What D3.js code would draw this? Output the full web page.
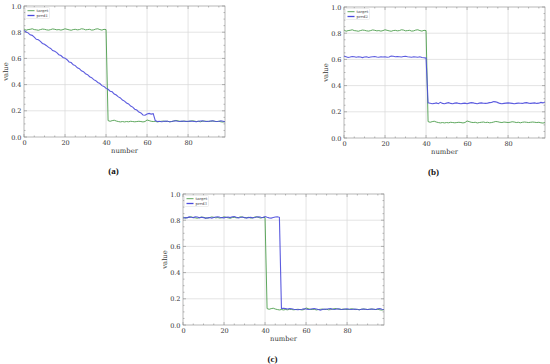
<!DOCTYPE html>
<html>
<head>
<meta charset="utf-8">
<script src="https://cdn.jsdelivr.net/npm/d3@7"></script>
<style>
  body { margin: 0; background: #fff; }
  svg { display: block; }
  .tick text { font-family: "DejaVu Serif", serif; font-size: 6.5px; fill: #333; }
</style>
</head>
<body>
<div id="chart"></div>
<script>
// values, index = number (0..98)
var target = [0.825,0.815,0.82,0.822,0.826,0.82,0.818,0.815,0.82,0.824,
  0.822,0.818,0.816,0.82,0.825,0.822,0.818,0.82,0.816,0.82,
  0.826,0.822,0.818,0.815,0.82,0.822,0.818,0.82,0.826,0.824,
  0.818,0.82,0.822,0.816,0.818,0.824,0.826,0.82,0.816,0.822,
  0.82,
  0.125,0.12,0.125,0.128,0.122,0.118,0.115,0.118,0.115,0.118,
  0.116,0.12,0.118,0.116,0.118,0.12,0.118,0.115,0.118,0.13,
  0.125,0.12,0.118,0.12,0.115,0.118,0.12,0.122,0.118,0.12,
  0.116,0.118,0.122,0.126,0.124,0.12,0.118,0.122,0.12,0.118,
  0.12,0.124,0.122,0.118,0.12,0.116,0.12,0.122,0.12,0.118,
  0.12,0.122,0.12,0.118,0.12,0.116,0.114,0.118];

var pred1 = [0.814,0.802,0.795,0.78,0.776,0.762,0.746,0.742,0.73,0.714,
  0.708,0.697,0.684,0.676,0.66,0.654,0.644,0.628,0.622,0.607,
  0.602,0.59,0.573,0.568,0.551,0.545,0.528,0.522,0.505,0.499,
  0.483,0.476,0.46,0.453,0.438,0.43,0.416,0.408,0.392,0.386,
  0.371,0.364,0.35,0.345,0.328,0.32,0.306,0.298,0.282,0.274,
  0.26,0.252,0.236,0.228,0.212,0.206,0.19,0.184,0.168,0.166,
  0.176,0.18,0.175,0.178,0.125,0.118,
  0.12,0.116,0.118,0.122,0.12,0.116,0.118,0.122,0.124,0.12,
  0.118,0.122,0.12,0.118,0.12,0.122,0.12,0.118,0.116,0.12,
  0.122,0.124,0.12,0.118,0.12,0.122,0.124,0.12,0.118,0.12,
  0.124,0.12,0.116];

var pred2 = [0.625,0.62,0.615,0.618,0.622,0.62,0.616,0.62,0.618,0.614,
  0.618,0.62,0.615,0.618,0.62,0.622,0.618,0.616,0.62,0.618,
  0.62,0.616,0.618,0.626,0.624,0.62,0.622,0.62,0.618,0.622,
  0.624,0.62,0.618,0.616,0.62,0.618,0.616,0.62,0.614,0.612,
  0.61,
  0.268,0.265,0.262,0.264,0.268,0.262,0.272,0.264,0.262,0.266,
  0.27,0.264,0.262,0.266,0.268,0.264,0.262,0.264,0.266,0.262,
  0.266,0.27,0.268,0.264,0.262,0.266,0.268,0.265,0.264,0.266,
  0.27,0.272,0.278,0.276,0.27,0.264,0.262,0.264,0.266,0.268,
  0.266,0.264,0.262,0.264,0.266,0.265,0.264,0.268,0.27,0.266,
  0.264,0.266,0.268,0.264,0.266,0.272,0.268,0.274];

var pred3 = [0.815,0.82,0.818,0.825,0.822,0.82,0.826,0.824,0.818,0.822,
  0.82,0.814,0.818,0.82,0.816,0.82,0.824,0.826,0.822,0.82,
  0.818,0.822,0.824,0.82,0.826,0.828,0.822,0.818,0.82,0.824,
  0.82,0.816,0.82,0.822,0.818,0.82,0.824,0.826,0.822,0.82,
  0.828,0.822,0.818,0.816,0.82,0.824,0.826,0.822,
  0.125,0.128,0.125,0.122,0.126,0.124,0.12,0.118,0.116,0.118,
  0.12,0.124,0.122,0.118,0.12,0.124,0.126,0.122,0.118,0.114,
  0.118,0.122,0.12,0.124,0.126,0.12,0.118,0.122,0.124,0.12,
  0.118,0.122,0.124,0.12,0.118,0.12,0.122,0.118,0.116,0.12,
  0.122,0.12,0.118,0.12,0.122,0.12,0.118,0.124,0.126,0.12,0.118];

var xTicks = [0, 20, 40, 60, 80];
var yTicks = [0.0, 0.2, 0.4, 0.6, 0.8, 1.0];

var panels = [
  {pred: pred1, name: "pred1", caption: "(a)", left: 24, top: 6},
  {pred: pred2, name: "pred2", caption: "(b)", left: 344, top: 7},
  {pred: pred3, name: "pred3", caption: "(c)", left: 183, top: 194}
];

var W = 550, H = 364;
var pw = 201, ph = 131;
var green = "#4c9d4c", blue = "#4a4adc";

var svg = d3.select("#chart").append("svg")
    .attr("width", W)
    .attr("height", H);

panels.forEach(function(p) {
  var g = svg.append("g")
      .attr("transform", "translate(" + p.left + "," + p.top + ")");

  var x = d3.scaleLinear().domain([0, 98]).range([0, pw]);
  var y = d3.scaleLinear().domain([0, 1]).range([ph, 0]);

  // grid
  g.append("g").selectAll("line").data(xTicks.slice(1)).enter().append("line")
      .attr("x1", d => x(d)).attr("x2", d => x(d))
      .attr("y1", 0).attr("y2", ph)
      .attr("stroke", "#d8d8d8").attr("stroke-width", 0.7);
  g.append("g").selectAll("line").data(yTicks.slice(1, -1)).enter().append("line")
      .attr("x1", 0).attr("x2", pw)
      .attr("y1", d => y(d)).attr("y2", d => y(d))
      .attr("stroke", "#d8d8d8").attr("stroke-width", 0.7);

  // minor ticks, inward on all sides
  var xMinor = d3.range(0, 99, 5), yMinor = d3.range(0, 1.0001, 0.05);
  var ticks = g.append("g").attr("stroke", "#777").attr("stroke-width", 0.5);
  xMinor.forEach(function(v) {
    var len = v % 20 === 0 ? 3 : 1.5;
    ticks.append("line").attr("x1", x(v)).attr("x2", x(v)).attr("y1", ph).attr("y2", ph - len);
    ticks.append("line").attr("x1", x(v)).attr("x2", x(v)).attr("y1", 0).attr("y2", len);
  });
  yMinor.forEach(function(v) {
    var len = Math.abs(v * 5 - Math.round(v * 5)) < 1e-6 ? 3 : 1.5;
    ticks.append("line").attr("y1", y(v)).attr("y2", y(v)).attr("x1", 0).attr("x2", len);
    ticks.append("line").attr("y1", y(v)).attr("y2", y(v)).attr("x1", pw).attr("x2", pw - len);
  });

  // axes (labels only)
  var xAxis = g.append("g")
      .attr("transform", "translate(0," + ph + ")")
      .call(d3.axisBottom(x).tickValues(xTicks).tickSize(0).tickPadding(3));
  var yAxis = g.append("g")
      .call(d3.axisLeft(y).tickValues(yTicks).tickFormat(d3.format(".1f")).tickSize(0).tickPadding(2.5));
  xAxis.select(".domain").remove();
  yAxis.select(".domain").remove();

  // lines
  var line = d3.line().x((d, i) => x(i)).y(d => y(d));
  g.append("path").datum(target)
      .attr("d", line).attr("fill", "none")
      .attr("stroke", green).attr("stroke-width", 0.9);
  g.append("path").datum(p.pred)
      .attr("d", line).attr("fill", "none")
      .attr("stroke", blue).attr("stroke-width", 1.1).attr("opacity", 0.9);

  // frame
  g.append("rect")
      .attr("width", pw).attr("height", ph)
      .attr("fill", "none").attr("stroke", "#888").attr("stroke-width", 0.6);

  // legend
  var lg = g.append("g").attr("transform", "translate(1.5,1.5)");
  lg.append("rect").attr("width", 24).attr("height", 11)
      .attr("fill", "#fff").attr("fill-opacity", 0.8)
      .attr("stroke", "#ddd").attr("stroke-width", 0.5).attr("rx", 1);
  [["target", green, 0.9], [p.name, blue, 1.3]].forEach(function(e, i) {
    lg.append("line").attr("x1", 2).attr("x2", 9)
        .attr("y1", 3.2 + i * 4.8).attr("y2", 3.2 + i * 4.8)
        .attr("stroke", e[1]).attr("stroke-width", e[2]);
    lg.append("text").attr("x", 11).attr("y", 4.6 + i * 4.8)
        .attr("font-family", "DejaVu Serif, serif").attr("font-size", 3.8)
        .attr("fill", "#444").text(e[0]);
  });

  // axis titles
  g.append("text")
      .attr("x", pw / 2).attr("y", ph + 16)
      .attr("text-anchor", "middle")
      .attr("font-family", "DejaVu Serif, serif").attr("font-size", 6.8)
      .attr("fill", "#333").text("number");
  g.append("text")
      .attr("transform", "translate(-16," + (ph / 2) + ") rotate(-90)")
      .attr("text-anchor", "middle")
      .attr("font-family", "DejaVu Serif, serif").attr("font-size", 6.8)
      .attr("fill", "#333").text("value");

  // caption
  g.append("text")
      .attr("x", pw / 2 - 11).attr("y", ph + 37)
      .attr("text-anchor", "middle")
      .attr("font-family", "Liberation Serif, serif").attr("font-size", 9)
      .attr("font-weight", "bold").attr("fill", "#111").text(p.caption);
});
</script>
</body>
</html>
